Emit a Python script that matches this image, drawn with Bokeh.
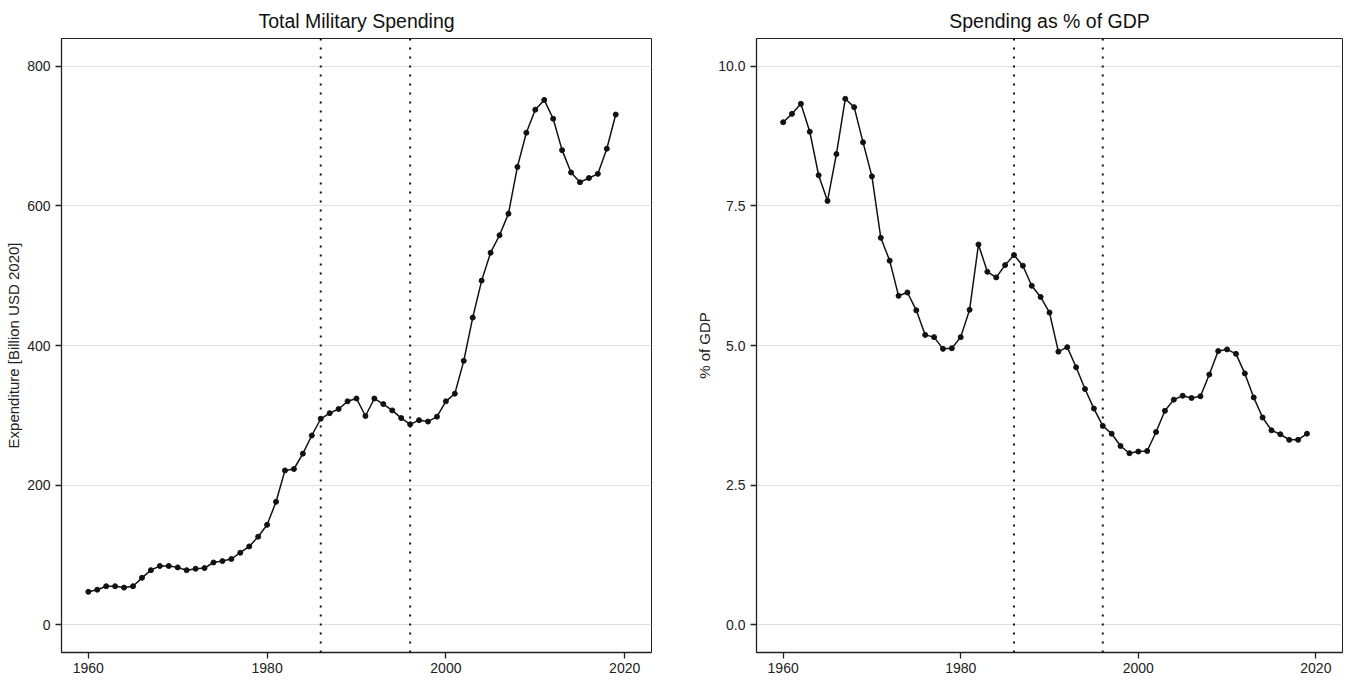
from bokeh.plotting import figure
from bokeh.layouts import row
from bokeh.models import Span, FixedTicker, NumeralTickFormatter, Range1d
from bokeh.embed import file_html
from bokeh.resources import INLINE

years = list(range(1960, 2020))
spending = [47, 50, 55, 55, 53, 55, 67, 78, 84, 84,
            82, 78, 80, 81, 89, 91, 94, 103, 112, 126,
            143, 176, 221, 223, 245, 271, 295, 303, 309, 320,
            324, 299, 324, 316, 307, 296, 287, 293, 291, 298,
            320, 331, 378, 440, 493, 533, 558, 589, 656, 705,
            738, 752, 725, 680, 648, 634, 640, 646, 682, 731]
gdp_share = [9.0, 9.15, 9.33, 8.83, 8.05, 7.59, 8.43, 9.42, 9.27, 8.64,
             8.03, 6.93, 6.52, 5.89, 5.95, 5.63, 5.19, 5.15, 4.94, 4.95,
             5.15, 5.64, 6.81, 6.32, 6.22, 6.44, 6.62, 6.43, 6.07, 5.87,
             5.59, 4.89, 4.97, 4.61, 4.22, 3.87, 3.56, 3.42, 3.20, 3.07,
             3.10, 3.11, 3.45, 3.83, 4.03, 4.10, 4.06, 4.09, 4.48, 4.90,
             4.93, 4.85, 4.50, 4.07, 3.71, 3.48, 3.41, 3.31, 3.31, 3.42]
marker_years = [1986, 1996]
x_ticks = [1960, 1980, 2000, 2020]
left_ticks = [0, 200, 400, 600, 800]
right_ticks = [0, 2.5, 5.0, 7.5, 10.0]

FONT = "Liberation Sans"


def make(title, y, yrange, yticks, ylabel, width, border_left, border_right, fmt=None):
    p = figure(width=width, height=680, output_backend="svg", toolbar_location=None,
               x_range=Range1d(1957, 2023), y_range=Range1d(*yrange),
               min_border_left=border_left, min_border_right=border_right,
               min_border_top=38, min_border_bottom=28)
    p.title.text = title
    p.title.align = "center"
    p.title.text_font = FONT
    p.title.text_font_size = "19.5px"
    p.title.text_font_style = "normal"
    p.title.text_color = "#111111"
    p.title.standoff = 13
    p.outline_line_color = "#222222"
    p.outline_line_width = 1
    p.outline_line_alpha = 1
    p.xgrid.grid_line_color = None
    p.ygrid.grid_line_color = "#e0e0e0"
    p.ygrid.grid_line_width = 1
    p.xaxis.ticker = FixedTicker(ticks=x_ticks)
    p.yaxis.ticker = FixedTicker(ticks=yticks)
    if fmt:
        p.yaxis.formatter = NumeralTickFormatter(format=fmt)
    for ax in (p.xaxis, p.yaxis):
        ax.axis_line_color = "#222222"
        ax.axis_line_width = 1.3
        ax.major_tick_line_color = "#222222"
        ax.major_tick_line_width = 1.3
        ax.major_tick_out = 6
        ax.major_tick_in = 0
        ax.minor_tick_line_color = None
        ax.major_label_text_font = FONT
        ax.major_label_text_font_size = "14px"
        ax.major_label_text_color = "#222222"
        ax.axis_label_text_font = FONT
        ax.axis_label_text_font_size = "15px"
        ax.axis_label_text_font_style = "normal"
        ax.axis_label_text_color = "#222222"
    p.xaxis.major_label_standoff = 4
    p.yaxis.major_label_standoff = 5
    p.yaxis.axis_label = ylabel
    p.yaxis.axis_label_standoff = 2
    for yr in marker_years:
        p.add_layout(Span(location=yr, dimension="height", line_color="#111111",
                          line_width=2, line_dash="2 7"))
    p.line(years, y, line_color="#111111", line_width=1.5)
    p.scatter(years, y, size=5, fill_color="#111111", line_color="#111111")
    return p


p1 = make("Total Military Spending", spending, (-40, 840), left_ticks,
          "Expenditure [Billion USD 2020]", 685, 61, 34)
p2 = make("Spending as % of GDP", gdp_share, (-0.5, 10.5), right_ticks,
          "% of GDP", 661, 71, 4, fmt="0.0")

layout = row(p1, p2)
open("out.html", "w").write(file_html(layout, INLINE))
